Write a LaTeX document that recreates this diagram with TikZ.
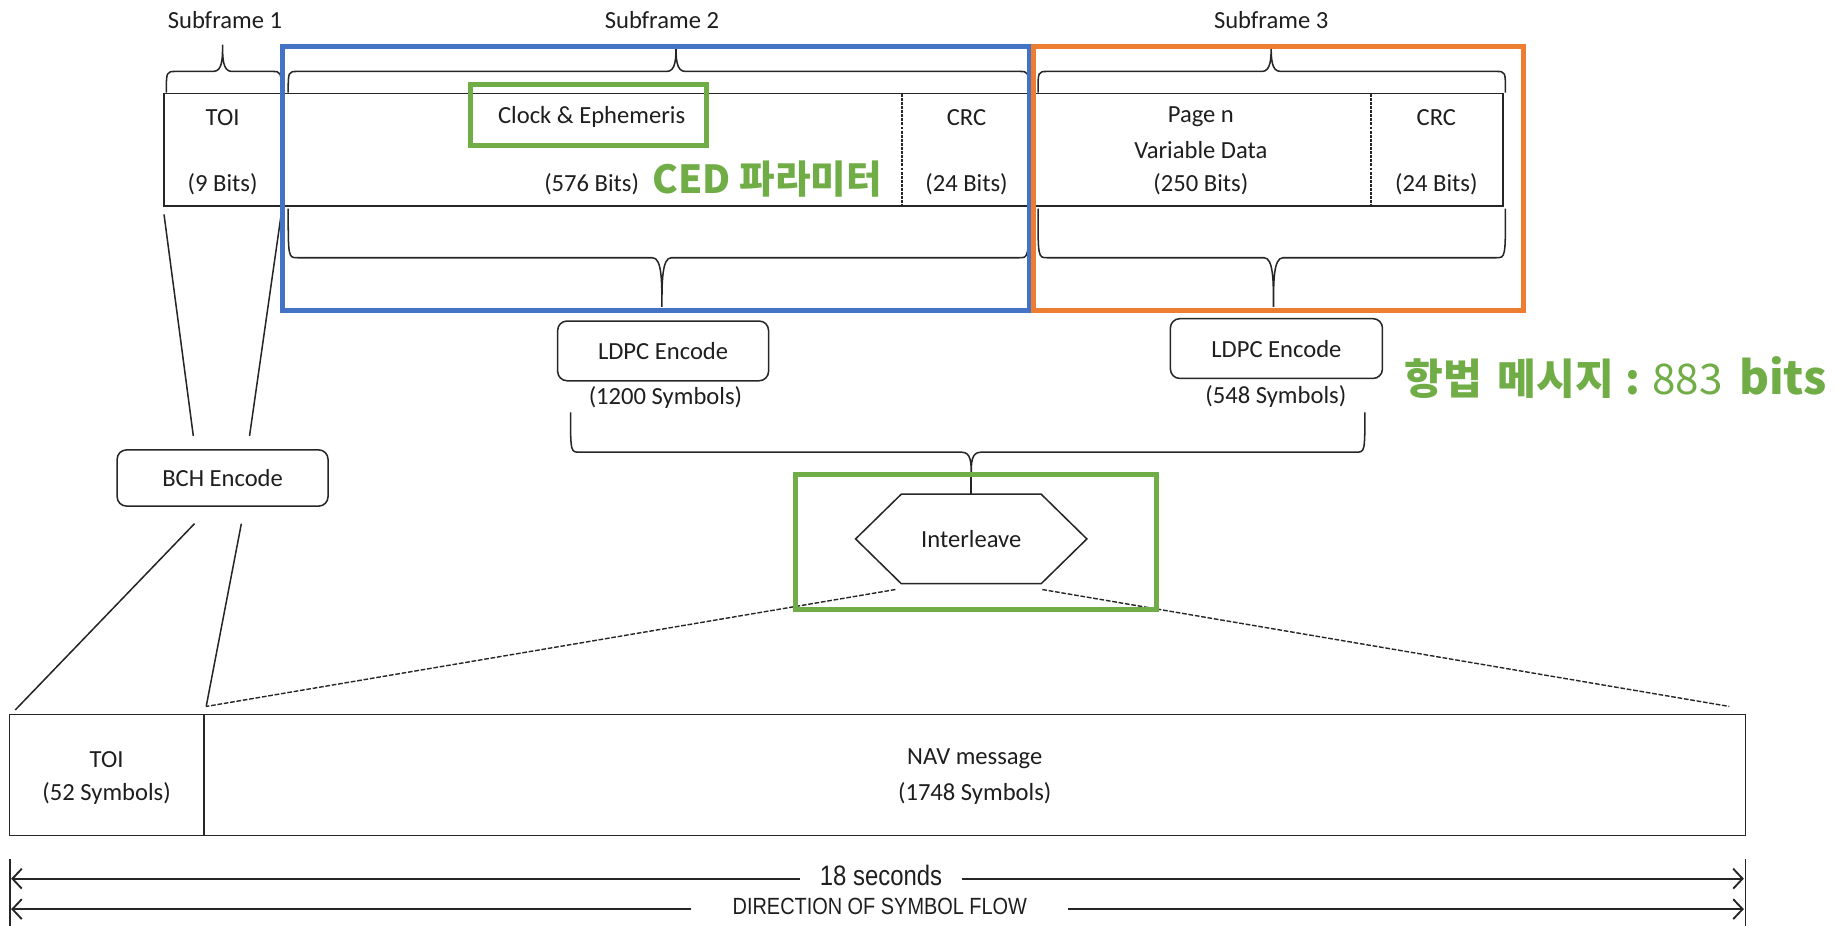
\documentclass[tikz,border=0pt]{standalone}
\usepackage{fontspec}
\setmainfont{Carlito}
\newfontfamily\narrowfont[FakeStretch=0.85]{Liberation Sans}
\newfontfamily\krfont{Noto Sans CJK KR}
\usetikzlibrary{arrows.meta,calc}
\definecolor{bluebox}{HTML}{4472C4}
\definecolor{orangebox}{HTML}{ED7D31}
\definecolor{greenbox}{HTML}{70AD47}
\definecolor{txt}{HTML}{1E1E1E}
\newcommand\mybrace[6]{%
  \draw[line] (#1,#4) .. controls (#1,#5) .. (#1+8,#5) -- (#3-8,#5) .. controls (#3,#5) and (#3,{#5+0.5*(#6-#5)}) .. (#3,#6)
              (#2,#4) .. controls (#2,#5) .. (#2-8,#5) -- (#3+8,#5) .. controls (#3,#5) and (#3,{#5+0.5*(#6-#5)}) .. (#3,#6);}
\begin{document}
\begin{tikzpicture}[x=1pt,y=-1pt,
  line/.style={line width=1.3pt, draw=black!85},
  lbl/.style={font=\fontsize{21}{24}\selectfont, text=txt, inner sep=0pt},
  cell/.style={minimum height=96pt, inner sep=0pt, outer sep=0pt},
  navcell/.style={minimum height=103pt, inner sep=0pt, outer sep=0pt},
  rbox/.style={draw=black!85, line width=1.3pt, rounded corners=8pt, inner sep=0pt, outer sep=0pt, font=\fontsize{21}{24}\selectfont, text=txt},
  hl/.style={line width=4.3pt},
  dashdiv/.style={line width=1.3pt, draw=black!85, dash pattern=on 2.5pt off 1pt},
  fine/.style={line width=1.2pt, draw=black!85, dash pattern=on 4pt off 1.5pt},
  flow/.style={line width=1.6pt, draw=black!85, -{Straight Barb[length=8pt,width=17pt,line width=1.6pt]}},
  kr/.style={font=\krfont\bfseries\fontsize{33}{36}\selectfont, text=greenbox, inner sep=0pt},
  bottomtxt/.style={text=txt, inner ysep=0pt},
]
\useasboundingbox (0,0) rectangle (1568,790);

% ---- top frame cells
\node[cell, minimum width=100pt] (toi)  at (190,128) {};
\node[cell, minimum width=530pt] (ced)  at (505,128) {};
\node[cell, minimum width=110pt] (crc1) at (825,128) {};
\node[cell, minimum width=290pt] (page) at (1025,128) {};
\node[cell, minimum width=113pt] (crc2) at (1226.5,128) {};
\draw[line] (toi.north west) rectangle (crc2.south east);
\draw[line] (toi.north east) -- (toi.south east);
\draw[line] (crc1.north east) -- (crc1.south east);
\draw[dashdiv] (ced.north east) -- (ced.south east);
\draw[dashdiv] (page.north east) -- (page.south east);

% ---- texts in frame
\node[lbl] (toit) at (190,100) {TOI};
\node[lbl] (toib) at (190,157) {(9 Bits)};
\node[lbl] (cedt) at (505,100) {Clock \& Ephemeris};
\node[lbl] (cedb) at (505,157) {(576 Bits)};
\node[lbl] (crc1t) at (825,100) {CRC};
\node[lbl] (crc1b) at (825,157) {(24 Bits)};
\node[lbl] (paget) at (1025,100) {Page n};
\node[lbl] (pagem) at (1025,128) {Variable Data};
\node[lbl] (pageb) at (1025,157) {(250 Bits)};
\node[lbl] (crc2t) at (1226,100) {CRC};
\node[lbl] (crc2b) at (1226,157) {(24 Bits)};

% ---- subframe labels and braces
\node[lbl] (sf1) at (192,17) {Subframe 1};
\node[lbl] (sf2) at (565,17) {Subframe 2};
\node[lbl] (sf3) at (1085,17) {Subframe 3};
\mybrace{142}{240}{190}{79}{61}{38}
\mybrace{246}{878}{577}{79}{61}{38}
\mybrace{886}{1285}{1085}{79}{61}{38}
\mybrace{246}{878}{565}{178}{220}{262}
\mybrace{886}{1285}{1087}{178}{220}{262}

% ---- encoders
\node[rbox, minimum width=180pt, minimum height=48pt] (bch) at (190,408) {BCH Encode};
\node[rbox, minimum width=180pt, minimum height=51pt] (ldpc1) at (566,299.5) {LDPC Encode};
\node[lbl] (ldpc1n) at (568,339) {(1200 Symbols)};
\node[rbox, minimum width=181pt, minimum height=51pt] (ldpc2) at (1089.5,297.5) {LDPC Encode};
\node[lbl] (ldpc2n) at (1089,338) {(548 Symbols)};
\mybrace{487}{1165}{829}{352}{386}{405}
\coordinate (ldpctip) at (829,405);

% ---- interleave hexagon
\node[inner sep=0pt, minimum width=197pt, minimum height=76pt, font=\fontsize{21}{24}\selectfont, text=txt] (ilv) at (829,460) {Interleave};
\draw[line] (ilv.west) -- ([xshift=39pt]ilv.north west) -- ([xshift=-39pt]ilv.north east) -- (ilv.east)
  -- ([xshift=-39pt]ilv.south east) -- ([xshift=39pt]ilv.south west) -- cycle;
\draw[line] (ldpctip) -- (ilv.north);

% ---- bottom frame
\node[navcell, minimum width=166pt] (navtoi) at (91,661.5) {};
\node[navcell, minimum width=1316pt] (navmsg) at (832,661.5) {};
\draw[line] (navtoi.north west) rectangle (navmsg.south east);
\draw[line] (navtoi.north east) -- (navtoi.south east);
\node[lbl] (navtoit) at (91,648) {TOI};
\node[lbl] (navtoib) at (91,677) {(52 Symbols)};
\node[lbl] (navmsgt) at (832,648) {NAV message};
\node[lbl] (navmsgb) at (832,677) {(1748 Symbols)};

% ---- connectors
\draw[line] ([yshift=-7pt]toi.south west) -- ([xshift=-25pt,yshift=12pt]bch.north);
\draw[line] ([yshift=-7pt]toi.south east) -- ([xshift=23pt,yshift=12pt]bch.north);
\draw[line] ([xshift=-24pt,yshift=-15pt]bch.south) -- ([xshift=5pt,yshift=4pt]navtoi.north west);
\draw[line] ([xshift=16pt,yshift=-15pt]bch.south) -- ([xshift=2pt,yshift=7pt]navtoi.north east);
\draw[fine] ([xshift=34pt,yshift=-5pt]ilv.south west) -- ([xshift=2pt,yshift=7pt]navmsg.north west);
\draw[fine] ([xshift=-38pt,yshift=-5pt]ilv.south east) -- ([xshift=-14pt,yshift=7pt]navmsg.north east);

% ---- bottom timeline
\coordinate (tickLtop) at (8.5,733);
\coordinate (tickLbot) at (8.5,790);
\coordinate (tickRtop) at (1490,733);
\coordinate (tickRbot) at (1490,790);
\draw[line] (tickLtop) -- (tickLbot);
\draw[line] (tickRtop) -- (tickRbot);
\coordinate (endL1) at (9.5,750);
\coordinate (endR1) at (1488.5,750);
\coordinate (endL2) at (9.5,776);
\coordinate (endR2) at (1488.5,776);
\node[bottomtxt, inner xsep=17pt, font=\narrowfont\fontsize{24}{26}\selectfont] (secs) at (752,747) {18 seconds};
\node[bottomtxt, inner xsep=35pt, font=\narrowfont\fontsize{20}{22}\selectfont] (dir) at (751,774) {DIRECTION OF SYMBOL FLOW};
\draw[flow] (secs.west |- endL1) -- (endL1);
\draw[flow] (secs.east |- endR1) -- (endR1);
\draw[flow] (dir.west |- endL2) -- (endL2);
\draw[flow] (dir.east |- endR2) -- (endR2);

% ---- highlight boxes
\draw[hl, draw=bluebox] (241,40) rectangle (878.5,265);
\draw[hl, draw=orangebox] (882,40) rectangle (1300,265);
\draw[hl, draw=greenbox] (402,72) rectangle (603,124);
\draw[hl, draw=greenbox] (679,405) rectangle (987,520);

% ---- annotations
\node[kr] (cedtxt) at (655,153) {CED 파라미터};
\node[kr, anchor=west, font=\krfont\bfseries\fontsize{36}{38}\selectfont] (navbits) at (1199,322)
  {항법\hspace{13pt}메시지\hspace{10pt}:\hspace{10pt}{\mdseries 883}\hspace{14pt}{\fontsize{39}{40}\selectfont bits}};
\end{tikzpicture}
\end{document}
